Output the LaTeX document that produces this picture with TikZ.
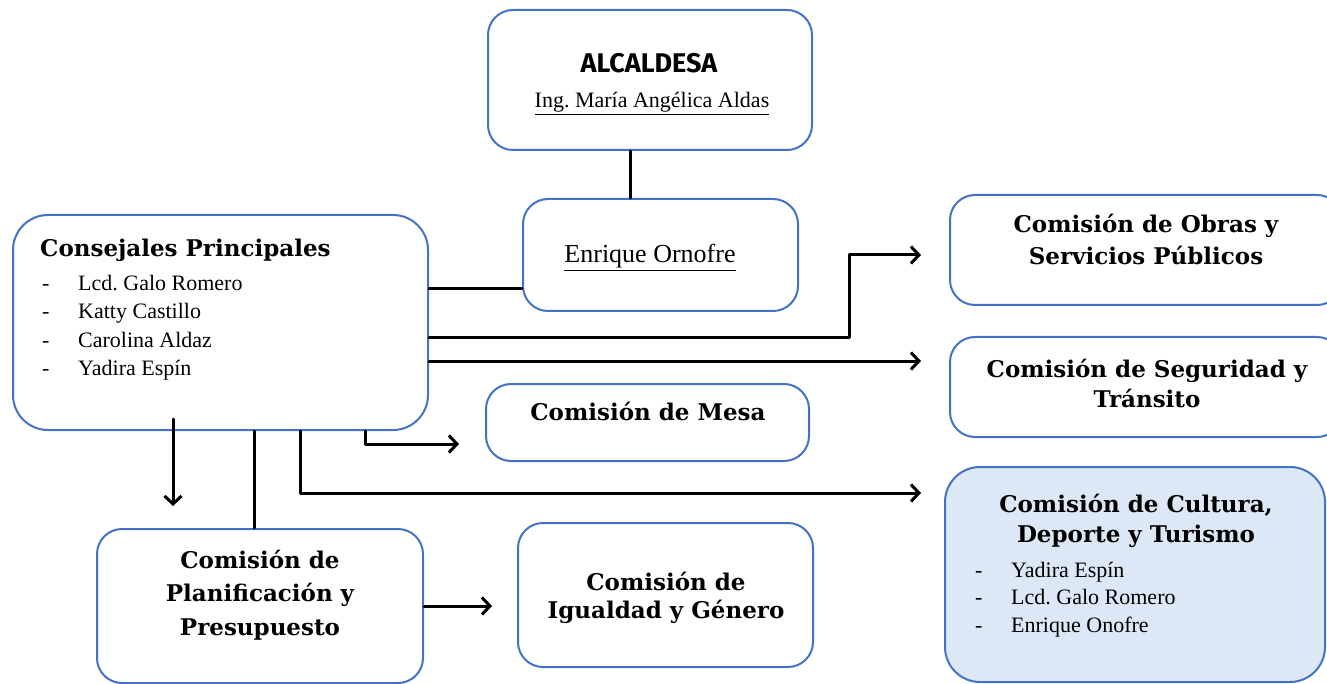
\documentclass[tikz,border=0pt]{standalone}
\usepackage{fontspec}
\setmainfont{Liberation Serif}
\newfontfamily\titlefam{DejaVu Serif}
\newfontfamily\headfam{Fira Sans}
\usetikzlibrary{arrows.meta,calc}
\definecolor{boxblue}{RGB}{68,114,196}
\definecolor{boxfill}{RGB}{221,232,246}
\frenchspacing

\begin{document}
\begin{tikzpicture}[x=1pt,y=-1pt,line cap=round,line join=round,>={Straight Barb[length=8pt,width=17pt]},
  box/.style={draw=boxblue,line width=2pt,rounded corners=25pt,fill=white,inner sep=0pt},
  ttl/.style={font=\titlefam\bfseries\fontsize{23}{28}\selectfont,anchor=base,inner sep=0pt},
  nm/.style={font=\fontsize{22}{26}\selectfont,anchor=base west,inner sep=0pt},
  ln/.style={line width=3pt}]
      \useasboundingbox (0,0) rectangle (1327,684);
      \clip (0,0) rectangle (1327,684);
      \node[box,minimum width=324pt,minimum height=140pt] (alc) at (650,80) {};
      \node[box,minimum width=275pt,minimum height=112pt] (enr) at (660.5,255) {};
      \node[box,rounded corners=35pt,minimum width=415pt,minimum height=215pt] (con) at (220.5,322.5) {};
      \node[box,minimum width=392pt,minimum height=110pt] (obr) at (1146,250) {};
      \node[box,minimum width=392pt,minimum height=100pt] (seg) at (1146,387) {};
      \node[box,minimum width=323pt,minimum height=77pt] (mes) at (647.5,422.5) {};
      \node[box,fill=boxfill,rounded corners=35pt,minimum width=380pt,minimum height=215pt] (cul) at (1135,574.5) {};
      \node[box,minimum width=326pt,minimum height=154pt] (pla) at (260,606) {};
      \node[box,minimum width=295pt,minimum height=144pt] (igu) at (665.5,595) {};
      \node[font=\headfam\bfseries\fontsize{27}{30}\selectfont,anchor=base,inner sep=0pt] (alcT) at (649,73) {ALCALDESA};
      \node[nm,anchor=base] (alcN) at (652,108) {\underline{Ing. María Angélica Aldas}};
      \node[nm,anchor=base,font=\fontsize{26}{30}\selectfont] (enrN) at (650,263) {\underline{Enrique Ornofre}};
      \node[ttl,anchor=base west] (conT) at (40,257) {Consejales Principales};
      \foreach \nom [count=\i] in {Lcd. Galo Romero,Katty Castillo,Carolina Aldaz,Yadira Espín} {
        \node[nm] (conD\i) at (42,263+28*\i) {-};
        \node[nm] (conN\i) at (78,263+28*\i) {\nom};
      }
      \node[ttl] (obrT1) at (1146,233) {Comisión de Obras y};
      \node[ttl] (obrT2) at (1146,265) {Servicios Públicos};
      \node[ttl] (segT1) at (1147,377) {Comisión de Seguridad y};
      \node[ttl] (segT2) at (1147,407) {Tránsito};
      \node[ttl] (mesT) at (648,420) {Comisión de Mesa};
      \node[ttl] (culT1) at (1136,512) {Comisión de Cultura,};
      \node[ttl] (culT2) at (1136,542) {Deporte y Turismo};
      \foreach \nom [count=\i] in {Yadira Espín,Lcd. Galo Romero,Enrique Onofre} {
        \node[nm] (culD\i) at (975,549.5+27.5*\i) {-};
        \node[nm] (culN\i) at (1011,549.5+27.5*\i) {\nom};
      }
      \node[ttl] (plaT1) at (260,568) {Comisión de};
      \node[ttl] (plaT2) at (260,601) {Planificación y};
      \node[ttl] (plaT3) at (260,635) {Presupuesto};
      \node[ttl] (iguT1) at (666,590) {Comisión de};
      \node[ttl] (iguT2) at (666,618) {Igualdad y Género};
      \coordinate (pAlc) at (630,0);
      \coordinate (pEnr) at (0,289);
      \coordinate (pObr) at (0,338);
      \coordinate (pPla) at (254,0);
      \coordinate (tObr) at ($(obr.west)+(-28,5)$);
      \coordinate (tSeg) at ($(seg.west)+(-28,-26)$);
      \coordinate (tMes) at ($(mes.west)+(-26,21.5)$);
      \coordinate (tCul) at ($(cul.west)+(-23,-81.5)$);
      \coordinate (tIgu) at ($(igu.west)+(-25,0)$);
      \coordinate (sDn) at ($(con.south)+(-47.5,-12)$);
      \draw[ln] (alc.south -| pAlc) -- (enr.north -| pAlc);
      \draw[ln] (con.east |- pEnr) -- (enr.west |- pEnr);
      \draw[ln,->] (con.east |- pObr) -- ++(420,0) |- (tObr);
      \draw[ln,->] (con.east |- tSeg) -- (tSeg);
      \draw[ln,->] ($(con.south)+(144.5,0)$) |- (tMes);
      \draw[ln,->] ($(con.south)+(79.5,0)$) |- (tCul);
      \draw[ln] (con.south -| pPla) -- (pla.north -| pPla);
      \draw[ln,->] (sDn) -- ++(0,87);
      \draw[ln,->] (pla.east) -- (pla.east -| tIgu);
    \end{tikzpicture}
\end{document}
